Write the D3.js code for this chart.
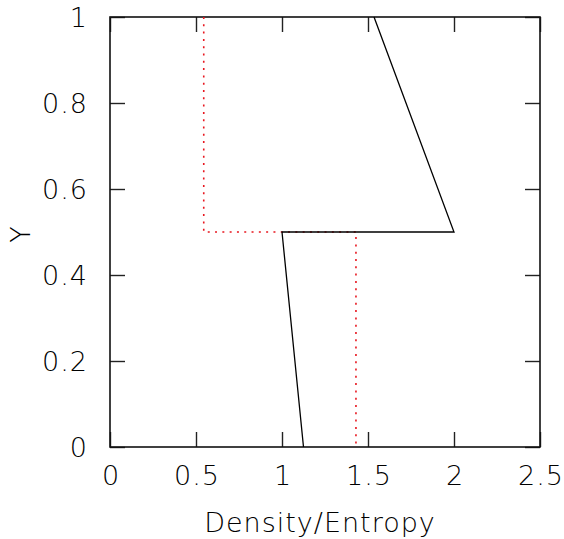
<!DOCTYPE html>
<html>
<head>
<meta charset="utf-8">
<script src="https://cdn.jsdelivr.net/npm/d3@7"></script>
<style>
  body { margin: 0; background: #fff; }
  text { font-family: "DejaVu Sans", sans-serif; font-weight: 200; fill: #000; letter-spacing: 1px; }
</style>
</head>
<body>
<div id="chart"></div>
<script>
// Series: density (solid black) and entropy (red dotted)
var densityX  = [1.535, 2.0, 1.0, 1.125];
var densityY  = [1.0,   0.5, 0.5, 0.0];
var entropyX  = [0.545, 0.545, 1.43, 1.43];
var entropyY  = [1.0,   0.5,   0.5,  0.0];

var xTicks = [0, 0.5, 1, 1.5, 2, 2.5];
var yTicks = [0, 0.2, 0.4, 0.6, 0.8, 1];
var xLabel = "Density/Entropy";
var yLabel = "Y";

var W = 564, H = 539;
var margin = { left: 110, right: 24, top: 17, bottom: 92 };
var iw = W - margin.left - margin.right;
var ih = H - margin.top - margin.bottom;

var svg = d3.select('#chart').append('svg')
  .attr('width', W).attr('height', H);

var x = d3.scaleLinear().domain([0, 2.5]).range([margin.left, margin.left + iw]);
var y = d3.scaleLinear().domain([0, 1]).range([margin.top + ih, margin.top]);

// Ticks point inward on every side
var tl = 15;
var fs = '27px';
var axes = [
  { ax: d3.axisBottom(x).tickValues(xTicks).tickFormat(d3.format('')), t: 'translate(0,' + (margin.top + ih) + ')', lab: true },
  { ax: d3.axisTop(x).tickValues(xTicks), t: 'translate(0,' + margin.top + ')' },
  { ax: d3.axisLeft(y).tickValues(yTicks).tickFormat(d3.format('')), t: 'translate(' + margin.left + ',0)', lab: true },
  { ax: d3.axisRight(y).tickValues(yTicks), t: 'translate(' + (margin.left + iw) + ',0)' }
];
axes.forEach(function(a, i){
  a.ax.tickSizeInner(-tl).tickSizeOuter(0);
  var g = svg.append('g').attr('transform', a.t).call(a.ax);
  g.selectAll('.domain').remove();
  g.selectAll('.tick line').attr('stroke', '#222').attr('stroke-width', 1.4);
  if(a.lab){
    g.selectAll('.tick text').style('font-size', fs).attr('fill', '#000');
    if(i == 0) g.selectAll('.tick text').attr('y', 37.5).attr('dy', 0).attr('dx', 0.5);
    if(i == 2) g.selectAll('.tick text').attr('x', -22).attr('dy', '0.36em');
  } else {
    g.selectAll('.tick text').remove();
  }
});

// Frame
svg.append('rect')
  .attr('x', margin.left).attr('y', margin.top)
  .attr('width', iw).attr('height', ih)
  .attr('fill', 'none').attr('stroke', '#111').attr('stroke-width', 1.6);

var line = d3.line().x(function(d){ return x(d[0]); }).y(function(d){ return y(d[1]); });

svg.append('path')
  .datum(d3.zip(entropyX, entropyY))
  .attr('d', line)
  .attr('fill', 'none').attr('stroke', '#e8171f').attr('stroke-width', 1.6)
  .attr('stroke-dasharray', '2,5.3');

svg.append('path')
  .datum(d3.zip(densityX, densityY))
  .attr('d', line)
  .attr('fill', 'none').attr('stroke', '#000').attr('stroke-width', 1.3);

// Axis titles
svg.append('text')
  .attr('x', 320).attr('y', 532)
  .attr('text-anchor', 'middle').style('font-size', fs)
  .text(xLabel);

svg.append('text')
  .attr('transform', 'translate(30,' + (margin.top + ih / 2 + 2) + ') rotate(-90)')
  .attr('text-anchor', 'middle').style('font-size', fs)
  .text(yLabel);
</script>
</body>
</html>
